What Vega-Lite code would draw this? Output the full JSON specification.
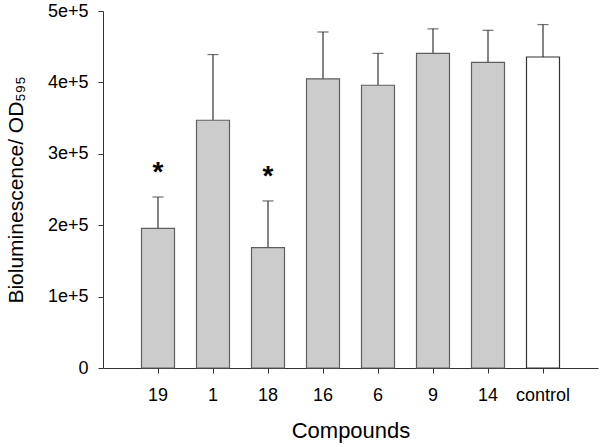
{
  "$schema": "https://vega.github.io/schema/vega-lite/v6.json",
  "autosize": "none",
  "padding": {"left": 103, "top": 11, "right": 6, "bottom": 79},
  "width": 495,
  "height": 357,
  "background": "white",
  "config": {"view": {"stroke": null}, "font": "Liberation Sans"},
  "data": {
    "values": [
      {"compound": "19", "mean": 195600, "upper": 239500, "sig": "*", "group": "treated"},
      {"compound": "1", "mean": 347000, "upper": 439000, "sig": "", "group": "treated"},
      {"compound": "18", "mean": 168500, "upper": 234000, "sig": "*", "group": "treated"},
      {"compound": "16", "mean": 405000, "upper": 470600, "sig": "", "group": "treated"},
      {"compound": "6", "mean": 396000, "upper": 440600, "sig": "", "group": "treated"},
      {"compound": "9", "mean": 440600, "upper": 475000, "sig": "", "group": "treated"},
      {"compound": "14", "mean": 428000, "upper": 473000, "sig": "", "group": "treated"},
      {"compound": "control", "mean": 435600, "upper": 481000, "sig": "", "group": "control"}
    ]
  },
  "encoding": {
    "x": {
      "field": "compound",
      "type": "nominal",
      "sort": null,
      "scale": {"paddingInner": 0.4, "paddingOuter": 0.7},
      "axis": {
        "title": "Compounds",
        "titleFont": "Liberation Sans",
        "titleFontSize": 22,
        "titleFontWeight": "normal",
        "titleColor": "black",
        "titleBaseline": "alphabetic",
        "titleY": 69,
        "labelFont": "Liberation Sans",
        "labelFontSize": 18,
        "labelColor": "black",
        "labelAngle": 0,
        "labelPadding": 13,
        "tickSize": 5,
        "tickColor": "#333",
        "domainColor": "#333",
        "grid": false
      }
    }
  },
  "layer": [
    {
      "mark": {"type": "rule", "stroke": "#333", "strokeWidth": 1.2},
      "encoding": {
        "y": {"field": "mean", "type": "quantitative"},
        "y2": {"field": "upper"}
      }
    },
    {
      "mark": {"type": "tick", "color": "#333", "size": 11, "thickness": 1.2},
      "encoding": {
        "y": {"field": "upper", "type": "quantitative"}
      }
    },
    {
      "mark": {"type": "bar", "strokeWidth": 1.2},
      "encoding": {
        "y": {
          "field": "mean",
          "type": "quantitative",
          "scale": {"domain": [0, 500000], "nice": false},
          "axis": {
            "title": "Bioluminescence/ OD₅₉₅",
            "titleFont": "Liberation Sans",
            "titleFontSize": 21,
            "titleFontWeight": "normal",
            "titleColor": "black",
            "titleBaseline": "alphabetic",
            "titleX": -81,
            "values": [0, 100000, 200000, 300000, 400000, 500000],
            "labelExpr": "datum.value == 0 ? '0' : (datum.value / 100000) + 'e+5'",
            "labelFont": "Liberation Sans",
            "labelFontSize": 18,
            "labelColor": "black",
            "labelPadding": 10,
            "tickSize": 5,
            "tickColor": "#333",
            "domainColor": "#333",
            "grid": false
          }
        },
        "fill": {
          "field": "group",
          "type": "nominal",
          "scale": {"domain": ["treated", "control"], "range": ["#cccccc", "#ffffff"]},
          "legend": null
        },
        "stroke": {
          "field": "group",
          "type": "nominal",
          "scale": {"domain": ["treated", "control"], "range": ["#5f5f5f", "#333333"]},
          "legend": null
        }
      }
    },
    {
      "transform": [{"filter": "datum.sig != ''"}],
      "mark": {"type": "text", "fontSize": 28, "fontWeight": "bold", "baseline": "middle", "dy": -24, "color": "black", "font": "Liberation Sans"},
      "encoding": {
        "y": {"field": "upper", "type": "quantitative"},
        "text": {"field": "sig"}
      }
    }
  ]
}
